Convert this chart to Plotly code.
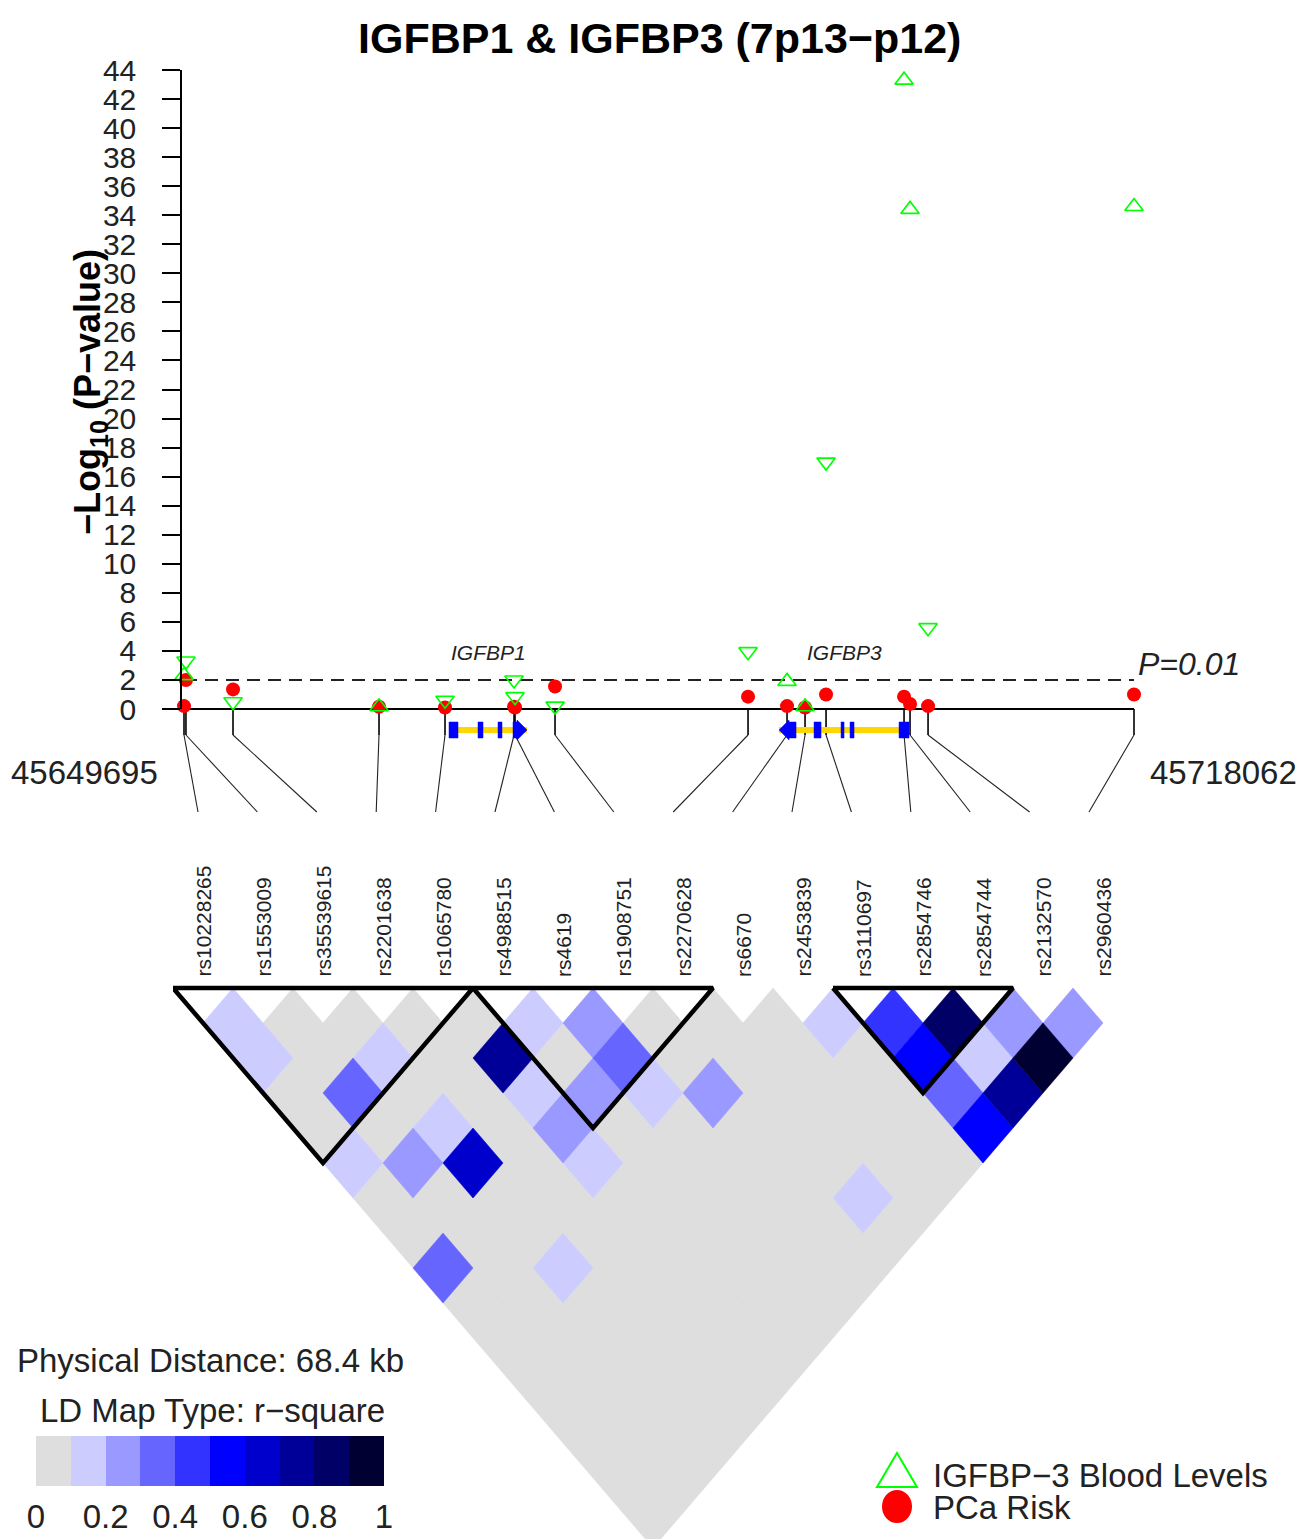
import plotly.graph_objects as go

W, H = 1313, 1539
FONT = "Liberation Sans, Arial, Helvetica, sans-serif"
INK = "#111111"

# ---------------- data ----------------
REGION_START = 45649695
REGION_END = 45718062

SNP_IDS = ["rs10228265", "rs1553009", "rs35539615", "rs2201638", "rs1065780",
           "rs4988515", "rs4619", "rs1908751", "rs2270628", "rs6670",
           "rs2453839", "rs3110697", "rs2854746", "rs2854744", "rs2132570",
           "rs2960436"]
SNP_POS = [45649695, 45649835, 45653222, 45663729, 45668479,
           45673445, 45673517, 45676396, 45690286, 45693093,
           45694388, 45695900, 45701513, 45701945, 45703241,
           45718062]
PCA_RISK_LOGP = [0.2, 2.0, 1.35, 0.15, 0.1, 0.15, 0.1, 1.55, 0.85, 0.2,
                 0.1, 1.0, 0.85, 0.35, 0.2, 1.0]
IGFBP3_LOGP = [2.3, 3.3, 0.5, 0.15, 0.6, 2.0, 0.85, 0.2, 3.95, 1.9,
               0.15, 17.0, 43.3, 34.4, 5.6, 34.6]
IGFBP3_EFFECT = ["up", "down", "down", "up", "down", "down", "down", "down",
                 "down", "up", "up", "down", "up", "up", "down", "up"]
SIG_LOGP = 2  # P = 0.01
Y_TICKS = list(range(0, 45, 2))

GENE_NAMES = ["IGFBP1", "IGFBP3"]
GENE_STRANDS = ["+", "-"]
GENE_EXONS = [
    [(45668767, 45669415), (45670854, 45671214), (45672294, 45672581), (45673373, 45674381)],
    [(45692517, 45693741), (45695036, 45695540), (45696979, 45697195),
     (45697627, 45697915), (45701154, 45701873)],
]

# upper triangle of r^2, row i holds pairs (i, i+1 .. 15)
LD_R2_ROWS = [
    [0.15, 0.15, 0.05, 0.05, 0.15, 0.05, 0.05, 0.35, 0.05, 0.05, 0.05, 0.05, 0.05, 0.05, 0.05],
    [0.05, 0.05, 0.35, 0.05, 0.25, 0.05, 0.05, 0.05, 0.05, 0.05, 0.05, 0.05, 0.05, 0.05],
    [0.05, 0.15, 0.05, 0.15, 0.65, 0.05, 0.05, 0.15, 0.05, 0.05, 0.05, 0.05, 0.05],
    [0.05, 0.05, 0.05, 0.05, 0.05, 0.05, 0.05, 0.05, 0.05, 0.05, 0.05, 0.05],
    [0.05, 0.75, 0.15, 0.25, 0.15, 0.05, 0.05, 0.05, 0.05, 0.05, 0.05],
    [0.15, 0.05, 0.25, 0.05, 0.05, 0.05, 0.05, 0.05, 0.05, 0.05],
    [0.25, 0.35, 0.15, 0.05, 0.05, 0.05, 0.05, 0.05, 0.05],
    [0.05, 0.05, 0.25, 0.05, 0.05, 0.05, 0.05, 0.05],
    [0.05, 0.05, 0.05, 0.05, 0.05, 0.15, 0.05],
    [0.05, 0.05, 0.05, 0.05, 0.05, 0.05],
    [0.15, 0.05, 0.05, 0.05, 0.05],
    [0.45, 0.55, 0.35, 0.55],
    [0.85, 0.15, 0.75],
    [0.25, 0.95],
    [0.25],
]
LD_BLOCKS = [(0, 4), (5, 8), (11, 13)]
LD_COLORS = ["#DEDEDE", "#CCCCFF", "#9999FF", "#6666FF", "#3333FF",
             "#0000FF", "#0000CC", "#000099", "#000066", "#000033"]
LD_BIN_CENTERS = [0.05, 0.15, 0.25, 0.35, 0.45, 0.55, 0.65, 0.75, 0.85, 0.95]
LD_TICKS = [0, 0.2, 0.4, 0.6, 0.8, 1]
LD_TICK_TEXT = ["0", "0.2", "0.4", "0.6", "0.8", "1"]

# ---------------- layout helpers ----------------
def fx(px):
    return px / W

def fy(py):
    return 1 - py / H

BPP = (REGION_END - REGION_START) / 950.0      # base pairs per pixel on the map
XR = [REGION_START - 2 * BPP, REGION_END + 2 * BPP]
X_DOM = [fx(182), fx(1136)]
STEM = 26          # map units (px) below baseline
LINK_BOTTOM = 103
GENE_Y = -21
LINK_END_PX0, LINK_END_STEP = 198, 59.4
ROW_PX = 35.0      # heatmap row height in px
TOP_PX = 988

fig = go.Figure()

# ---------- map subplot (x, y): baseline, stems, connectors, genes ----------
fig.add_trace(go.Scatter(x=[REGION_START, REGION_END], y=[0, 0], mode="lines",
                         line=dict(color="black", width=2), hoverinfo="skip",
                         xaxis="x", yaxis="y", showlegend=False))
sx, sy, cx, cy = [], [], [], []
for i, p in enumerate(SNP_POS):
    sx += [p, p, None]
    sy += [0, -STEM, None]
    end_gen = REGION_START + (LINK_END_PX0 + LINK_END_STEP * i - 184) * BPP
    cx += [p, end_gen, None]
    cy += [-STEM, -LINK_BOTTOM, None]
fig.add_trace(go.Scatter(x=sx, y=sy, mode="lines", line=dict(color="black", width=1.6),
                         hoverinfo="skip", xaxis="x", yaxis="y", showlegend=False))
fig.add_trace(go.Scatter(x=cx, y=cy, mode="lines", line=dict(color="#222222", width=1.1),
                         hoverinfo="skip", xaxis="x", yaxis="y", showlegend=False))

head = 10 * BPP
for name, strand, exons in zip(GENE_NAMES, GENE_STRANDS, GENE_EXONS):
    g0 = min(e[0] for e in exons)
    g1 = max(e[1] for e in exons)
    fig.add_trace(go.Scatter(x=[g0, g1], y=[GENE_Y, GENE_Y], mode="lines",
                             line=dict(color="#FFD700", width=6), hoverinfo="skip",
                             xaxis="x", yaxis="y", showlegend=False))
    ex, ey = [], []
    for k, (s, e) in enumerate(exons):
        y = GENE_Y
        terminal = (strand == "+" and k == len(exons) - 1) or (strand == "-" and k == 0)
        if terminal and strand == "+":
            ex += [s, e - head, e - head, e, e - head, e - head, s, s, None]
            ey += [y - 8, y - 8, y - 10, y, y + 10, y + 8, y + 8, y - 8, None]
        elif terminal and strand == "-":
            ex += [e, s + head, s + head, s, s + head, s + head, e, e, None]
            ey += [y - 8, y - 8, y - 10, y, y + 10, y + 8, y + 8, y - 8, None]
        else:
            ex += [s, e, e, s, s, None]
            ey += [y - 8, y - 8, y + 8, y + 8, y - 8, None]
    fig.add_trace(go.Scatter(x=ex, y=ey, mode="lines", fill="toself",
                             fillcolor="#0000FF", line=dict(color="#0000FF", width=0.5),
                             hoverinfo="skip", xaxis="x", yaxis="y", showlegend=False))

# ---------- association subplot (x2, y2) ----------
fig.add_trace(go.Scatter(x=[REGION_START, REGION_END], y=[SIG_LOGP, SIG_LOGP], mode="lines",
                         line=dict(color="#222222", width=2, dash="13px,8px"),
                         hoverinfo="skip", xaxis="x2", yaxis="y2", showlegend=False))
fig.add_trace(go.Scatter(x=SNP_POS, y=PCA_RISK_LOGP, mode="markers", cliponaxis=False,
                         marker=dict(symbol="circle", size=14, color="#FF0000"),
                         name="PCa Risk", xaxis="x2", yaxis="y2", showlegend=False))
fig.add_trace(go.Scatter(x=SNP_POS, y=IGFBP3_LOGP, mode="markers", cliponaxis=False,
                         marker=dict(symbol=["triangle-up-open" if d == "up" else "triangle-down-open"
                                             for d in IGFBP3_EFFECT],
                                     size=16, color="#00FF00", line=dict(width=1.6, color="#00FF00")),
                         name="IGFBP-3 Blood Levels", xaxis="x2", yaxis="y2", showlegend=False))

# ---------- LD heatmap (x3, y3) ----------
bins = {k: ([], []) for k in range(len(LD_COLORS))}
for i, row in enumerate(LD_R2_ROWS):
    for off, r2 in enumerate(row):
        j = i + 1 + off
        c = (i + j) / 2.0
        d = j - i
        b = min(int(r2 * 10), 9)
        xs, ys = bins[b]
        xs += [c - 0.5, c, c + 0.5, c, c - 0.5, None]
        ys += [d, d - 1, d, d + 1, d, None]
for b, (xs, ys) in bins.items():
    if not xs:
        continue
    fig.add_trace(go.Scatter(x=xs, y=ys, mode="lines", fill="toself",
                             fillcolor=LD_COLORS[b], line=dict(color=LD_COLORS[b], width=0.6),
                             hoverinfo="skip", xaxis="x3", yaxis="y3", showlegend=False))
bx, by = [], []
for a, b in LD_BLOCKS:
    bx += [a - 0.5, b + 0.5, (a + b) / 2.0, a - 0.5, None]
    by += [0, 0, b - a + 1, 0, None]
fig.add_trace(go.Scatter(x=bx, y=by, mode="lines", line=dict(color="black", width=4.5),
                         hoverinfo="skip", xaxis="x3", yaxis="y3", showlegend=False))

# ---------- colour key (x4, y4) ----------
colorscale = []
for k, col in enumerate(LD_COLORS):
    colorscale += [[k / 10.0, col], [(k + 1) / 10.0, col]]
fig.add_trace(go.Heatmap(z=[LD_BIN_CENTERS], x=LD_BIN_CENTERS, y=[0.5],
                         colorscale=colorscale, zmin=0, zmax=1, showscale=False,
                         hoverinfo="skip", xaxis="x4", yaxis="y4"))

# ---------- annotations ----------
def label(text, px, py, size, xanchor="center", yanchor="middle", angle=0, color="#222222", **kw):
    d = dict(text=text, x=fx(px), y=fy(py), xref="paper", yref="paper",
             xanchor=xanchor, yanchor=yanchor, showarrow=False, textangle=angle,
             font=dict(size=size, color=color, family=FONT))
    d.update(kw)
    return d

ann = []
ann.append(label("<b>IGFBP1 &amp; IGFBP3 (7p13−p12)</b>", 659, 38, 43, color="black"))
ann.append(label("<b>−Log<sub>10</sub> (P−value)</b>", 90, 392, 36, angle=-90, color="black"))
for name, exons in zip(GENE_NAMES, GENE_EXONS):
    mid = (min(e[0] for e in exons) + max(e[1] for e in exons)) / 2.0
    ann.append(dict(text="<i>" + name + "</i>", x=mid, xref="x2", y=fy(652), yref="paper",
                    xanchor="center", yanchor="middle", showarrow=False,
                    font=dict(size=21, color="#222222", family=FONT)))
ann.append(dict(text="<i>P=0.01</i>", x=REGION_END, xref="x2", y=SIG_LOGP, yref="y2",
                xanchor="left", yanchor="bottom", xshift=2, yshift=-4, showarrow=False,
                font=dict(size=32, color="#222222", family=FONT)))
ann.append(dict(text=str(REGION_START), x=REGION_START, xref="x", y=fy(772), yref="paper",
                xanchor="right", yanchor="middle", xshift=-24, showarrow=False,
                font=dict(size=33, color="#222222", family=FONT)))
ann.append(dict(text=str(REGION_END), x=REGION_END, xref="x", y=fy(772), yref="paper",
                xanchor="left", yanchor="middle", xshift=14, showarrow=False,
                font=dict(size=33, color="#222222", family=FONT)))
for i, sid in enumerate(SNP_IDS):
    ann.append(dict(text=sid, x=i, xref="x3", y=fy(979), yref="paper",
                    xanchor="center", yanchor="bottom",
                    textangle=-90, showarrow=False,
                    font=dict(size=21, color="#222222", family=FONT)))
ann.append(label("Physical Distance: 68.4 kb", 210, 1360, 33))
ann.append(label("LD Map Type: r−square", 212, 1410, 33))
ann.append(label("IGFBP−3 Blood Levels", 931, 1475, 33, xanchor="left"))
ann.append(label("PCa Risk", 931, 1507, 33, xanchor="left"))

shapes = [
    dict(type="path", xref="paper", yref="paper",
         path="M {} {} L {} {} L {} {} Z".format(fx(877), fy(1487), fx(917), fy(1487), fx(897), fy(1453)),
         line=dict(color="#00FF00", width=2), fillcolor="rgba(0,0,0,0)"),
    dict(type="circle", xref="paper", yref="paper", x0=fx(882), x1=fx(912),
         y0=fy(1523), y1=fy(1490), line=dict(color="#FF0000", width=0), fillcolor="#FF0000"),
]

hidden = dict(visible=False, showgrid=False, zeroline=False, automargin=False)
fig.update_layout(
    width=W, height=H, margin=dict(l=0, r=0, t=0, b=0, pad=0, autoexpand=False),
    paper_bgcolor="white", plot_bgcolor="rgba(0,0,0,0)",
    font=dict(family=FONT, color=INK),
    showlegend=False,
    xaxis=dict(domain=X_DOM, range=XR, anchor="y", **hidden),
    yaxis=dict(domain=[fy(816), fy(707.5)], range=[-107, 1.5], anchor="x", **hidden),
    xaxis2=dict(domain=X_DOM, range=XR, anchor="y2", **hidden),
    yaxis2=dict(domain=[fy(709), fy(70)], range=[0, 44], anchor="x2", automargin=False,
                tickvals=Y_TICKS, ticks="outside", ticklen=18, tickwidth=1.5,
                tickcolor="black", showline=True, linewidth=1.5, linecolor="black",
                showgrid=False, zeroline=False, ticklabelstandoff=20,
                tickfont=dict(size=30, family=FONT, color="#222222")),
    xaxis3=dict(domain=[fx(173), fx(1133)], range=[-0.5, 15.5], anchor="y3", **hidden),
    yaxis3=dict(domain=[0, fy(980)], range=[(H - TOP_PX) / ROW_PX, -8 / ROW_PX],
                anchor="x3", **hidden),
    xaxis4=dict(domain=[fx(36), fx(384)], range=[0, 1], anchor="y4", automargin=False,
                tickvals=LD_TICKS, ticktext=LD_TICK_TEXT, ticks="", showline=False,
                showgrid=False, zeroline=False, ticklabelstandoff=8,
                tickfont=dict(size=33, color="#222222", family=FONT)),
    yaxis4=dict(domain=[fy(1486), fy(1436)], range=[0, 1], anchor="x4", **hidden),
    annotations=ann, shapes=shapes,
)

fig.write_html("out.html", config={"displayModeBar": False},
               post_script="document.body.style.margin='0px';")
